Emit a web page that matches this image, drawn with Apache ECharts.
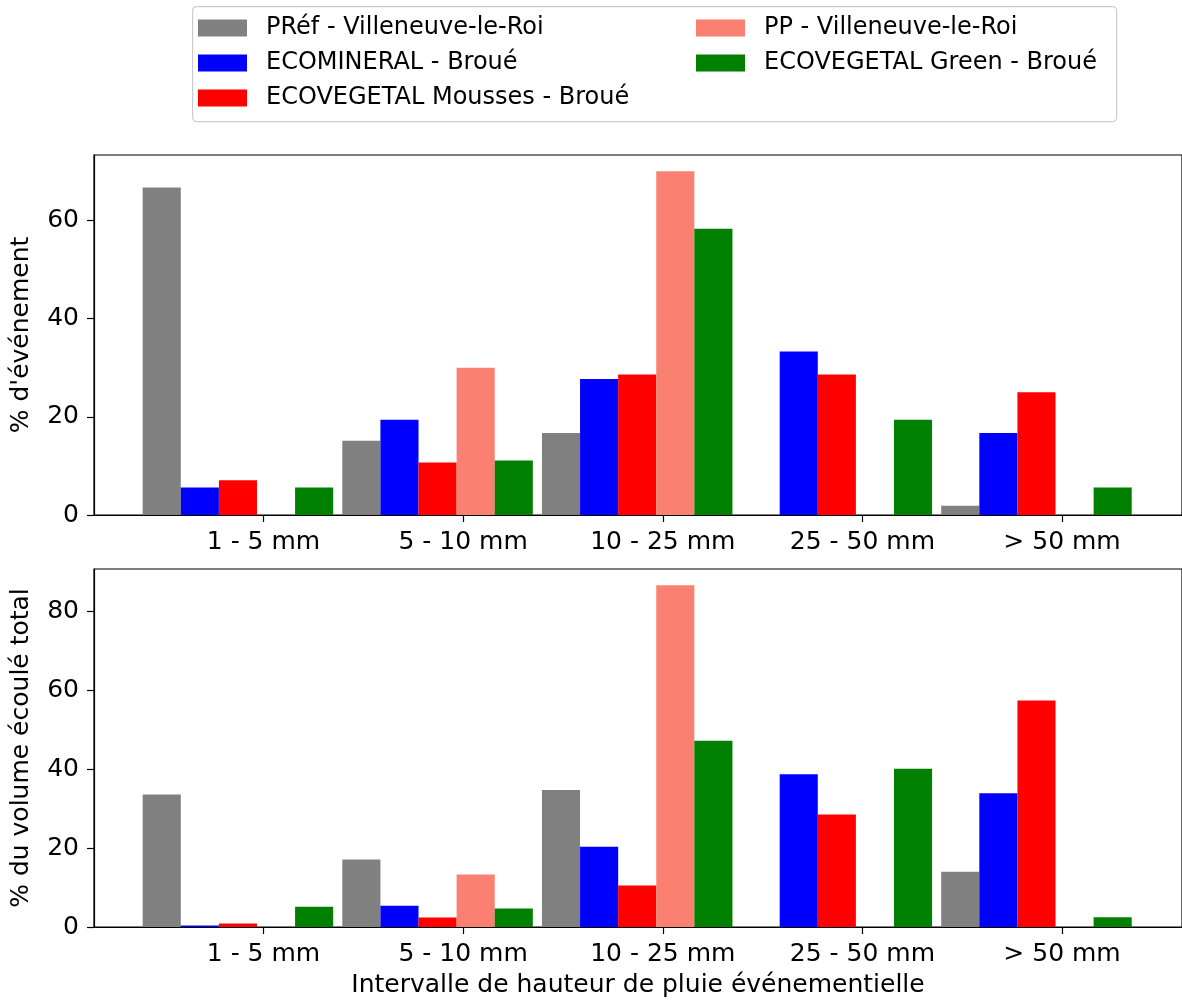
<!DOCTYPE html>
<html>
<head>
<meta charset="utf-8">
<script src="https://cdn.jsdelivr.net/npm/echarts@6/dist/echarts.min.js"></script>
<style>
html,body{margin:0;padding:0;background:#fff;}
#chart{width:1182px;height:1001px;}
</style>
</head>
<body>
<div id="chart"></div>
<script>
// ---- data ----
const categories = ['1 - 5 mm', '5 - 10 mm', '10 - 25 mm', '25 - 50 mm', '> 50 mm'];
const seriesNames = ['PRéf - Villeneuve-le-Roi', 'ECOMINERAL - Broué', 'ECOVEGETAL Mousses - Broué', 'PP - Villeneuve-le-Roi', 'ECOVEGETAL Green - Broué'];
// % d'événement
const prefEvt    = [66.7, 15.1, 16.7, 0, 1.9];
const ecominEvt  = [5.6, 19.4, 27.7, 33.3, 16.7];
const moussesEvt = [7.1, 10.7, 28.6, 28.6, 25.0];
const ppEvt      = [0, 30.0, 70.0, 0, 0];
const greenEvt   = [5.6, 11.1, 58.3, 19.4, 5.6];
// % du volume écoulé total
const prefVol    = [33.6, 17.1, 34.7, 0, 14.0];
const ecominVol  = [0.4, 5.4, 20.3, 38.7, 33.9];
const moussesVol = [0.9, 2.4, 10.5, 28.5, 57.4];
const ppVol      = [0, 13.3, 86.6, 0, 0];
const greenVol   = [5.1, 4.7, 47.2, 40.1, 2.5];
const yTicksTop = [0, 20, 40, 60];
const yTicksBottom = [0, 20, 40, 60, 80];

// ---- styling ----
const colors = ['#808080', '#0000ff', '#ff0000', '#fa8072', '#008000'];
const FONT = 'DejaVu Sans';
const FS = 25;
const LABEL_SHIFT = 0.128;
const tickPos = categories.map((c, i) => i + LABEL_SHIFT);

const evtSets = [prefEvt, ecominEvt, moussesEvt, ppEvt, greenEvt];
const volSets = [prefVol, ecominVol, moussesVol, ppVol, greenVol];

function xAxisFor(gi, withName) {
  const ax = {
    type: 'value', gridIndex: gi, min: -0.721, max: 4.729,
    splitLine: {show: false},
    axisLine: {show: true, onZero: false, lineStyle: {color: '#000', width: 1.2}},
    axisTick: {show: true, length: 7, customValues: tickPos, lineStyle: {color: '#000', width: 1.2}},
    axisLabel: {
      customValues: tickPos, margin: 15, color: '#000', fontFamily: FONT, fontSize: FS,
      formatter: v => categories[Math.round(v - LABEL_SHIFT)]
    }
  };
  if (withName) {
    ax.name = 'Intervalle de hauteur de pluie événementielle';
    ax.nameLocation = 'middle';
    ax.nameGap = 46;
    ax.nameTextStyle = {color: '#000', fontFamily: FONT, fontSize: FS};
  }
  return ax;
}
function yAxisFor(gi, max, ticks, name) {
  return {
    type: 'value', gridIndex: gi, min: 0, max: max,
    splitLine: {show: false},
    axisLine: {show: true, onZero: false, lineStyle: {color: '#000', width: 1.2}},
    axisTick: {show: true, length: 7, customValues: ticks, lineStyle: {color: '#000', width: 1.2}},
    axisLabel: {customValues: ticks, margin: 15, color: '#000', fontFamily: FONT, fontSize: FS},
    name: name, nameLocation: 'middle', nameGap: 60,
    nameTextStyle: {color: '#000', fontFamily: FONT, fontSize: FS}
  };
}

const series = [];
evtSets.forEach((vals, k) => {
  series.push({
    type: 'bar', name: seriesNames[k], xAxisIndex: 0, yAxisIndex: 0,
    barWidth: 38.1, barGap: '0%',
    itemStyle: {color: colors[k]},
    data: vals.map((v, i) => [i, v])
  });
});
volSets.forEach((vals, k) => {
  series.push({
    type: 'bar', name: seriesNames[k], xAxisIndex: 1, yAxisIndex: 1,
    barWidth: 38.1, barGap: '0%',
    itemStyle: {color: colors[k]},
    data: vals.map((v, i) => [i, v])
  });
});

const legendCommon = {
  orient: 'vertical', itemWidth: 49, itemHeight: 17, itemGap: 11, padding: 0,
  selectedMode: false, icon: 'rect',
  textStyle: {color: '#000', fontFamily: FONT, fontSize: 24, lineHeight: 24, padding: [0, 0, 0, 14]}
};

const chart = echarts.init(document.getElementById('chart'), null, {renderer: 'canvas'});
chart.setOption({
  animation: false,
  backgroundColor: '#fff',
  color: colors,
  graphic: [{
    type: 'rect', left: 192, top: 6, z: 0,
    shape: {width: 924, height: 115, r: 4},
    style: {fill: '#fff', stroke: '#cccccc', lineWidth: 1.2}
  }],
  legend: [
    Object.assign({}, legendCommon, {left: 198, top: 16, data: seriesNames.slice(0, 3)}),
    Object.assign({}, legendCommon, {left: 696, top: 16, data: seriesNames.slice(3)})
  ],
  grid: [
    {left: 94, top: 155, right: -2, height: 360, show: true, borderColor: '#000', borderWidth: 1.2, backgroundColor: 'transparent'},
    {left: 94, top: 569, right: -2, height: 358, show: true, borderColor: '#000', borderWidth: 1.2, backgroundColor: 'transparent'}
  ],
  xAxis: [xAxisFor(0, false), xAxisFor(1, true)],
  yAxis: [
    yAxisFor(0, 73.3, yTicksTop, "% d'événement"),
    yAxisFor(1, 90.7, yTicksBottom, '% du volume écoulé total')
  ],
  series: series
});
</script>
</body>
</html>
